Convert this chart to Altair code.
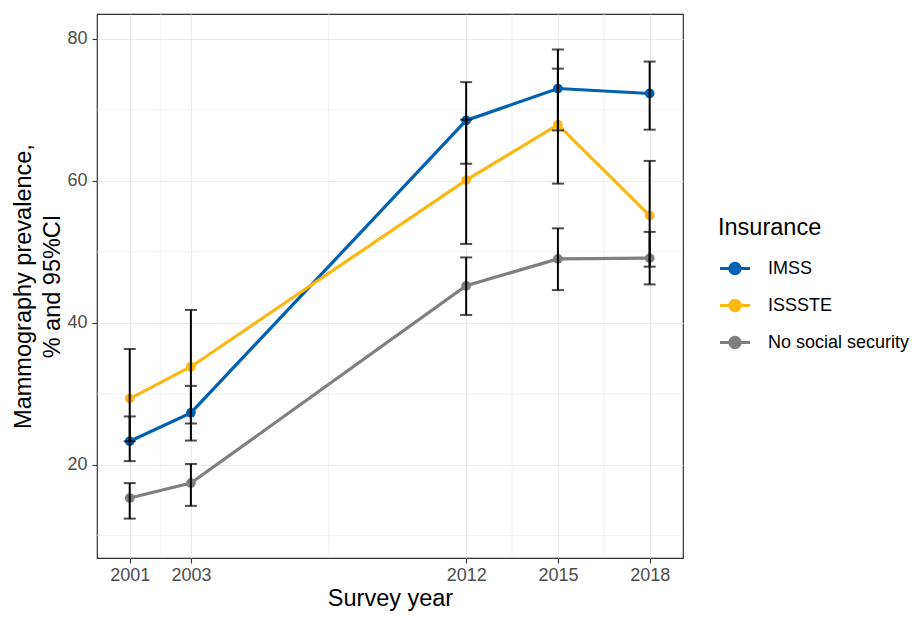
import altair as alt
import pandas as pd

years = [2001, 2003, 2012, 2015, 2018]
groups = ["IMSS", "ISSSTE", "No social security"]
colors = ["#0061B3", "#FCB713", "#7F7F7F"]

imss_val = [23.3, 27.3, 68.5, 73.0, 72.3]
imss_lo = [20.5, 23.4, 62.4, 67.1, 67.2]
imss_hi = [26.8, 31.1, 73.9, 78.5, 76.8]

issste_val = [29.3, 33.8, 60.1, 67.9, 55.1]
issste_lo = [23.3, 25.8, 51.1, 59.6, 47.9]
issste_hi = [36.3, 41.8, 68.6, 75.8, 62.8]

nss_val = [15.3, 17.4, 45.2, 49.0, 49.1]
nss_lo = [12.4, 14.2, 41.1, 44.6, 45.4]
nss_hi = [17.4, 20.1, 49.2, 53.3, 52.8]

minor_x = [2002, 2007.5, 2013.5, 2016.5]
minor_y = [10, 30, 50, 70]
major_y = [20, 40, 60, 80]

rows = []
for g, v, lo, hi in [("IMSS", imss_val, imss_lo, imss_hi),
                     ("ISSSTE", issste_val, issste_lo, issste_hi),
                     ("No social security", nss_val, nss_lo, nss_hi)]:
    for y, a, b, c in zip(years, v, lo, hi):
        rows.append({"year": y, "Insurance": g, "value": a, "lo": b, "hi": c})
df = pd.DataFrame(rows)

xscale = alt.Scale(domain=[1999.93, 2019.09], nice=False, zero=False)
yscale = alt.Scale(domain=[6.85, 83.5], nice=False, zero=False)

FONT = "Liberation Sans"
TITLE_SIZE = 23.5
LABEL_SIZE = 18

xax = alt.Axis(values=years, format="d", title="Survey year", grid=True,
               gridColor="#EBEBEB", gridWidth=1.1, domain=False,
               tickColor="#333333", tickSize=5, tickWidth=1.1,
               labelFontSize=LABEL_SIZE,
               labelColor="#4D4D4D", labelFont=FONT, labelPadding=3,
               titleFont=FONT, titleFontSize=TITLE_SIZE, titleFontWeight="normal",
               titleColor="#000000", titlePadding=2)
yax = alt.Axis(values=major_y, title=["Mammography prevalence,", "% and 95%CI"],
               grid=True, gridColor="#EBEBEB", gridWidth=1.1, domain=False,
               tickColor="#333333", tickSize=5, tickWidth=1.1,
               labelFontSize=LABEL_SIZE,
               labelColor="#4D4D4D", labelFont=FONT, labelPadding=5,
               titleFont=FONT, titleFontSize=TITLE_SIZE, titleFontWeight="normal",
               titleColor="#000000", titlePadding=2, titleLineHeight=29)

color = alt.Color("Insurance:N",
                  scale=alt.Scale(domain=groups, range=colors),
                  legend=alt.Legend(title="Insurance", orient="none",
                                    legendX=621, legendY=202,
                                    titleFont=FONT, titleFontSize=TITLE_SIZE,
                                    titleFontWeight="normal", titleColor="#000000",
                                    titlePadding=12,
                                    labelFont=FONT, labelFontSize=18, labelColor="#000000",
                                    labelLimit=300,
                                    symbolType="M-1,0H1M0.34,0A0.34,0.34 0 1,1 -0.34,0A0.34,0.34 0 1,1 0.34,0",
                                    symbolSize=900, symbolStrokeWidth=3.2,
                                    rowPadding=8, labelOffset=16))

base = alt.Chart(df)

minor_gx = alt.Chart(pd.DataFrame({"mx": minor_x})).mark_rule(
    color="#EBEBEB", strokeWidth=0.6).encode(
    x=alt.X("mx:Q", scale=xscale, axis=xax))
minor_gy = alt.Chart(pd.DataFrame({"my": minor_y})).mark_rule(
    color="#EBEBEB", strokeWidth=0.6).encode(
    y=alt.Y("my:Q", scale=yscale, axis=yax))

lines = base.mark_line(strokeWidth=3.2).encode(
    x=alt.X("year:Q", scale=xscale, axis=xax),
    y=alt.Y("value:Q", scale=yscale, axis=yax),
    color=color)
points = base.mark_point(filled=True, size=95, opacity=1).encode(
    x=alt.X("year:Q", scale=xscale),
    y=alt.Y("value:Q", scale=yscale),
    color=color)
err = base.mark_rule(color="black", strokeWidth=2).encode(
    x=alt.X("year:Q", scale=xscale),
    y=alt.Y("lo:Q", scale=yscale),
    y2="hi:Q")
cap_lo = base.mark_tick(color="black", orient="horizontal", size=12, thickness=2).encode(
    x=alt.X("year:Q", scale=xscale),
    y=alt.Y("lo:Q", scale=yscale))
cap_hi = base.mark_tick(color="black", orient="horizontal", size=12, thickness=2).encode(
    x=alt.X("year:Q", scale=xscale),
    y=alt.Y("hi:Q", scale=yscale))

chart = alt.layer(minor_gx, minor_gy, lines, points, err, cap_lo, cap_hi).properties(
    width=586, height=544,
    autosize=alt.AutoSizeParams(type="none"),
    padding={"left": 89, "top": 6, "right": 228, "bottom": 53},
).configure(background="white").configure_view(stroke="#333333", strokeWidth=1.2)

chart.save("out.html", embed_options={"renderer": "svg", "actions": False})
